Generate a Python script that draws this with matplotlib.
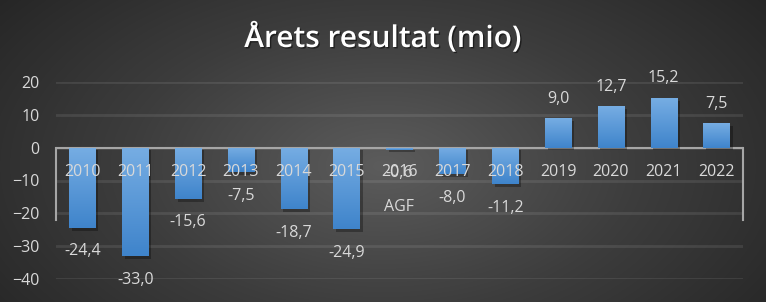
import numpy as np
import matplotlib.pyplot as plt
import matplotlib.patheffects as pe
from matplotlib.colors import LinearSegmentedColormap

# ---------------------- Data

years = ['2010', '2011', '2012', '2013', '2014', '2015', '2016',
         '2017', '2018', '2019', '2020', '2021', '2022']
values = [-24.4, -33.0, -15.6, -7.5, -18.7, -24.9, -0.6,
          -8.0, -11.2, 9.0, 12.7, 15.2, 7.5]
yticks = [20, 10, 0, -10, -20, -30, -40]
note_year = '2016'
note_text = 'AGF'
title = 'Årets resultat (mio)'

# ---------------------- Style

plt.rcParams['font.family'] = ['Open Sans', 'DejaVu Sans']
textColor = '#d9d9d9'
barLight = '#76ade3'
barDark = '#3f84cb'

fig = plt.figure(figsize=(7.66, 3.02), dpi=100)

# background radial gradient
bg = fig.add_axes([0, 0, 1, 1], zorder=0)
yy, xx = np.mgrid[0:1:302j, 0:1:766j]
r = np.sqrt(((xx - 0.5) / 0.55) ** 2 + ((yy - 0.55) / 0.8) ** 2)
bgMap = LinearSegmentedColormap.from_list('bg', ['#5c5c5c', '#3d3d3d', '#242424'])
bg.imshow(r, cmap=bgMap, extent=[0, 1, 0, 1], aspect='auto', vmin=0, vmax=1.2)
bg.axis('off')

ax = fig.add_axes([56 / 766, 23 / 302, 687 / 766, 197 / 302], zorder=1)
ax.patch.set_alpha(0)

x = np.arange(len(years))
bars = ax.bar(x, values, width=0.5, color=barDark, zorder=3,
              path_effects=[pe.SimplePatchShadow(offset=(2, -2), shadow_rgbFace='black', alpha=0.3),
                            pe.Normal()])

# vertical gradient on each bar
gradMap = LinearSegmentedColormap.from_list('bar', [barDark, barLight])
grad = np.linspace(0, 1, 100).reshape(-1, 1)
for b in bars:
    x0 = b.get_x()
    y0 = b.get_y()
    w = b.get_width()
    h = b.get_height()
    lo, hi = min(y0, y0 + h), max(y0, y0 + h)
    im = ax.imshow(grad, cmap=gradMap, extent=[x0, x0 + w, lo, hi],
                   origin='lower', aspect='auto', zorder=4)
    im.set_clip_path(b)

ax.set_xlim(-0.5, len(years) - 0.5)
ax.set_ylim(-40, 20)
ax.set_yticks(yticks)
ax.set_xticks([])
ax.grid(axis='y', color='white', alpha=0.09, linewidth=2)
ax.set_axisbelow(True)
for s in ax.spines.values():
    s.set_visible(False)
ax.tick_params(axis='y', length=0, pad=12, labelsize=11.5, labelcolor=textColor)

# zero line and the box edges of the category area
ax.axhline(0, color='#a6a6a6', linewidth=1.5, zorder=2)
ax.plot([-0.5, -0.5], [0, -22], color='#a6a6a6', linewidth=1.5, clip_on=False, zorder=2)
ax.plot([len(years) - 0.5] * 2, [0, -22], color='#a6a6a6', linewidth=1.5, clip_on=False, zorder=2)

# category labels and value labels
for i, (yr, v) in enumerate(zip(years, values)):
    ax.annotate(yr, (i, 0), xytext=(0, -17.5), textcoords='offset points',
                ha='center', va='center', fontsize=11.5, color=textColor, zorder=6)
    off = -17 if v < 0 else 14
    ax.annotate(f'{v:.1f}'.replace('.', ','), (i, v), xytext=(0, off),
                textcoords='offset points', ha='center', va='center',
                fontsize=11.5, color=textColor, zorder=6)

ax.text(years.index(note_year), -18, note_text, ha='center', va='center',
        fontsize=11.5, color=textColor)

fig.text(0.5, 1 - 38 / 302, title, ha='center', va='center', fontsize=21.5,
         fontweight='semibold', color='white',
         path_effects=[pe.withSimplePatchShadow(offset=(1, -1), shadow_rgbFace='black', alpha=0.5)])

fig.savefig('out.png', dpi=100)
